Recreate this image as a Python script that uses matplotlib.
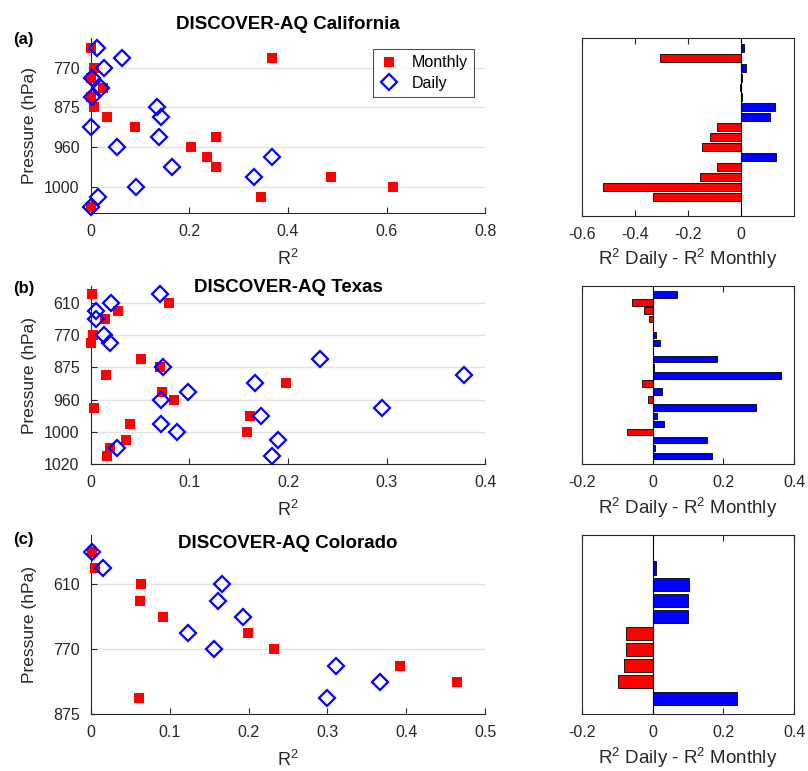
import matplotlib
matplotlib.use("Agg")
import matplotlib.pyplot as plt

plt.rcParams["font.family"] = ["Liberation Sans", "DejaVu Sans"]
plt.rcParams["mathtext.fontset"] = "custom"
plt.rcParams["mathtext.rm"] = "Liberation Sans"
plt.rcParams["mathtext.it"] = "Liberation Sans:italic"
plt.rcParams["axes.unicode_minus"] = False

W, H = 808, 771
GREY = "#262626"

# ==========================
# DATA (level index on a common grid, 610 hPa = level 0)
# ==========================

pressure_ticks = [0, 4, 8, 12, 16, 20]
pressure_labels = ["610", "770", "875", "960", "1000", "1020"]

ca_level = [2, 3, 4, 5, 6, 7, 8, 9, 10, 11, 12, 13, 14, 15, 16, 17, 18]
ca_monthly = [0.000, 0.368, 0.007, 0.001, 0.024, 0.000, 0.007, 0.034, 0.090,
              0.255, 0.203, 0.235, 0.254, 0.487, 0.612, 0.345, 0.000]
ca_daily = [0.012, 0.063, 0.026, 0.003, 0.020, 0.002, 0.134, 0.142, 0.001,
            0.139, 0.054, 0.367, 0.164, 0.331, 0.092, 0.015, 0.001]

tx_level = [-1, 0, 1, 2, 4, 5, 7, 8, 9, 10, 11, 12, 13, 14, 15, 16, 17, 18, 19]
tx_monthly = [0.001, 0.079, 0.028, 0.014, 0.002, 0.000, 0.051, 0.070, 0.016,
              0.198, 0.072, 0.084, 0.003, 0.161, 0.040, 0.158, 0.036, 0.020, 0.017]
tx_daily = [0.070, 0.021, 0.005, 0.005, 0.013, 0.020, 0.232, 0.073, 0.378,
            0.167, 0.099, 0.071, 0.295, 0.173, 0.071, 0.087, 0.190, 0.027, 0.184]

co_level = [-2, -1, 0, 1, 2, 3, 4, 5, 6, 7]
co_monthly = [0.002, 0.006, 0.064, 0.062, 0.092, 0.199, 0.232, 0.392, 0.464, 0.061]
co_daily = [0.002, 0.015, 0.166, 0.161, 0.193, 0.123, 0.156, 0.311, 0.366, 0.300]

panels = [
    dict(tag="(a)", title="DISCOVER-AQ California",
         level=ca_level, monthly=ca_monthly, daily=ca_daily,
         xlim=(0, 0.8), xticks=[0, 0.2, 0.4, 0.6, 0.8],
         dxlim=(-0.6, 0.2), dxticks=[-0.6, -0.4, -0.2, 0],
         top=38.3, bottom=212.7, rbottom=215.7,
         ylim=(18.62, 1.04), rylim=(18.92, 1.04),
         title_y=29.3, tag_y=44, legend=True),
    dict(tag="(b)", title="DISCOVER-AQ Texas",
         level=tx_level, monthly=tx_monthly, daily=tx_daily,
         xlim=(0, 0.4), xticks=[0, 0.1, 0.2, 0.3, 0.4],
         dxlim=(-0.2, 0.4), dxticks=[-0.2, 0, 0.2, 0.4],
         top=286, bottom=464.3, rbottom=464.3,
         ylim=(20, -2.05), rylim=(20, -2.05),
         title_y=291.5, tag_y=293, legend=False),
    dict(tag="(c)", title="DISCOVER-AQ Colorado",
         level=co_level, monthly=co_monthly, daily=co_daily,
         xlim=(0, 0.5), xticks=[0, 0.1, 0.2, 0.3, 0.4, 0.5],
         dxlim=(-0.2, 0.4), dxticks=[-0.2, 0, 0.2, 0.4],
         top=535, bottom=714.3, rbottom=714.3,
         ylim=(8, -3.03), rylim=(8, -3.03),
         title_y=548, tag_y=544, legend=False),
]

LX0, LX1 = 90.7, 485.3
RX0, RX1 = 581.7, 794.3


def px_axes(fig, x0, x1, y0, y1):
    return fig.add_axes([x0 / W, 1 - y1 / H, (x1 - x0) / W, (y1 - y0) / H])


def tick_fmt(v):
    return "0" if v == 0 else f"{v:g}"


fig = plt.figure(figsize=(W / 100, H / 100), dpi=100)

for p in panels:
    # ---------- scatter of R2 profiles ----------
    ax = px_axes(fig, LX0, LX1, p["top"], p["bottom"])
    ax.plot(p["monthly"], p["level"], "s", color="red", ms=7.2, mew=0,
            label="Monthly", zorder=3, clip_on=False)
    ax.plot(p["daily"], p["level"], "D", mfc="none", mec="blue", mew=1.6,
            ms=8, label="Daily", zorder=4, clip_on=False)

    ax.set_xlim(p["xlim"])
    ax.set_xticks(p["xticks"])
    ax.set_xticklabels([tick_fmt(v) for v in p["xticks"]])
    ax.set_yticks(pressure_ticks)
    ax.set_yticklabels(pressure_labels)
    ax.set_ylim(p["ylim"])

    ax.yaxis.grid(True, color="#e2e2e2", lw=1.0)
    ax.set_axisbelow(True)
    for s in ["top", "right"]:
        ax.spines[s].set_visible(False)
    for s in ["left", "bottom"]:
        ax.spines[s].set_color(GREY)
        ax.spines[s].set_linewidth(0.8)
    ax.tick_params(direction="in", length=4, colors=GREY, labelsize=11.5,
                   pad=8, width=0.8)

    ax.set_xlabel("R$^2$", fontsize=13, color=GREY, labelpad=7)
    ax.set_ylabel("Pressure (hPa)", fontsize=12.5, color=GREY)
    ax.yaxis.set_label_coords(-0.135, 0.5)

    if p["legend"]:
        leg = ax.legend(loc="upper right", bbox_to_anchor=(0.971, 0.939),
                        borderaxespad=0, fancybox=False, fontsize=11.5,
                        handlelength=1.2, handletextpad=0.8,
                        borderpad=0.4, labelspacing=0.35)
        leg.get_frame().set_edgecolor(GREY)
        leg.get_frame().set_linewidth(0.8)

    fig.text((LX0 + LX1) / 2 / W, 1 - p["title_y"] / H, p["title"],
             ha="center", va="baseline", fontsize=13.5, fontweight="bold")
    fig.text(12.7 / W, 1 - p["tag_y"] / H, p["tag"],
             ha="left", va="baseline", fontsize=12, fontweight="bold")

    # ---------- difference bars ----------
    rax = px_axes(fig, RX0, RX1, p["top"], p["rbottom"])
    diff = [d - m for d, m in zip(p["daily"], p["monthly"])]
    colors = ["blue" if v > 0 else "red" for v in diff]
    rax.barh(p["level"], diff, height=0.8, color=colors,
             edgecolor="black", linewidth=0.6, zorder=2)
    rax.axvline(0, color="black", lw=0.8, zorder=3)

    rax.set_xlim(p["dxlim"])
    rax.set_ylim(p["rylim"])
    rax.set_xticks(p["dxticks"])
    rax.set_xticklabels([tick_fmt(v) for v in p["dxticks"]])
    rax.set_yticks([])
    for s in rax.spines.values():
        s.set_color(GREY)
        s.set_linewidth(0.8)
    rax.tick_params(axis="x", direction="in", top=True, length=4,
                    colors=GREY, labelsize=11.5, pad=8, width=0.8)
    rax.set_xlabel("R$^2$ Daily - R$^2$ Monthly", fontsize=13.5,
                   color=GREY, labelpad=4)

fig.savefig("out.png", dpi=100)
